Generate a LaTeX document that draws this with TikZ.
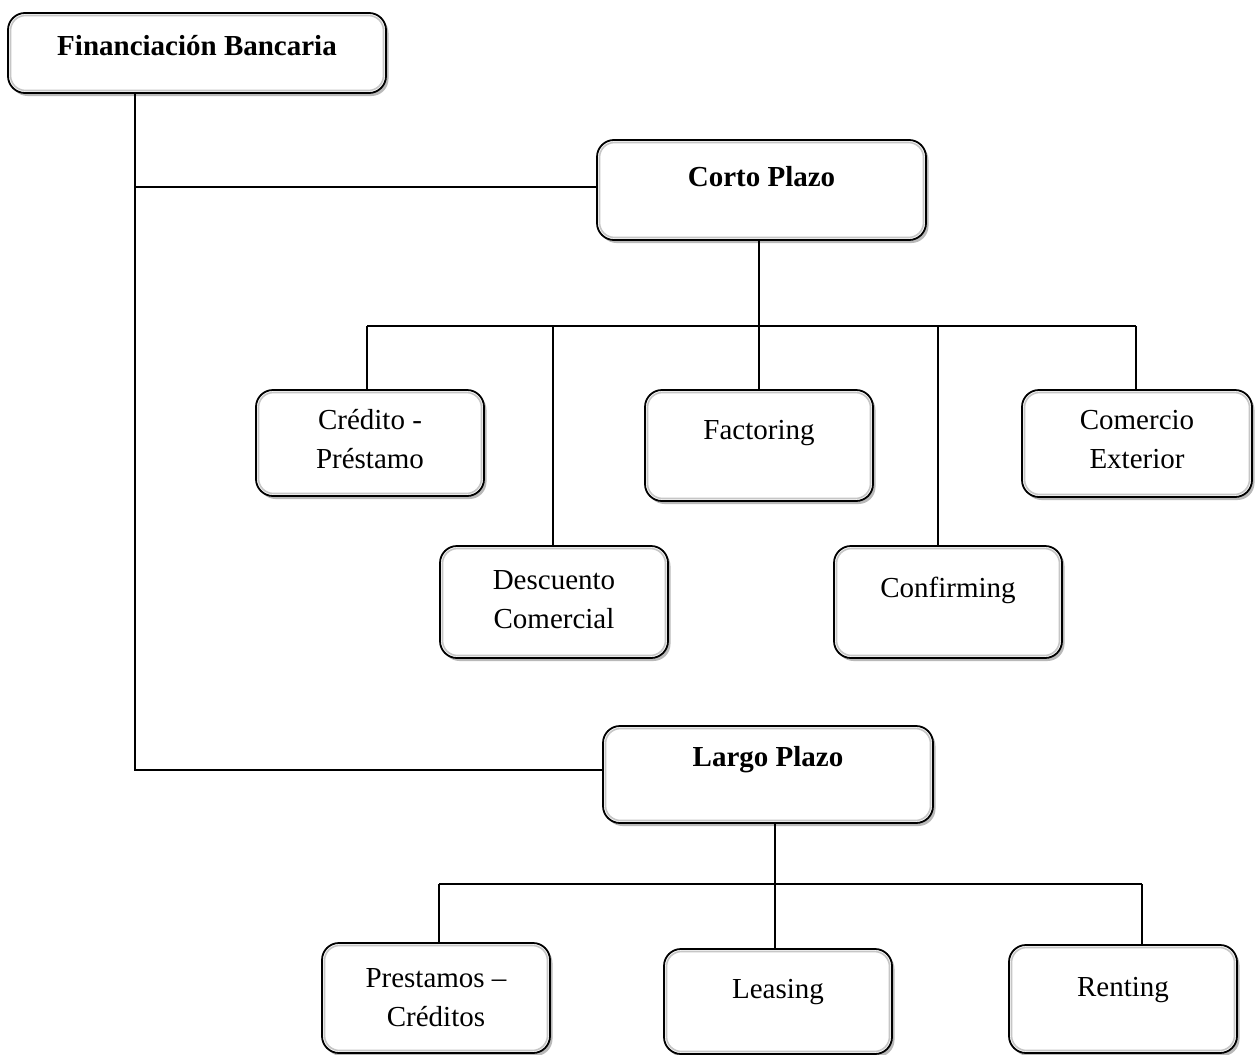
\documentclass[tikz,border=0pt]{standalone}
\usepackage{fontspec}
\setmainfont{Liberation Serif}
\usetikzlibrary{shadows}
\begin{document}
\begin{tikzpicture}[x=1pt,y=-1pt,
  box/.style={draw=black,line width=1.8pt,rounded corners=17pt,fill=white,
    drop shadow={shadow xshift=2.5pt,shadow yshift=-3pt,fill=gray!55,opacity=1},
    path picture={\draw[gray!45,line width=1.6pt,rounded corners=15pt]
      ([shift={(2.5pt,-2.5pt)}]path picture bounding box.north west) rectangle
      ([shift={(-2.5pt,2.5pt)}]path picture bounding box.south east);},
    inner sep=0pt},
  txt/.style={font=\fontsize{29}{39}\selectfont,align=center,inner sep=0pt},
  btxt/.style={txt,font=\fontsize{29}{39}\selectfont\bfseries},
  conn/.style={line width=1.6pt,black}]
\useasboundingbox (0,0) rectangle (1259,1055);

% boxes
\node[box,minimum width=378pt,minimum height=80pt]  (fb) at (197,53) {};
\node[box,minimum width=329pt,minimum height=100pt] (cp) at (761.5,190) {};
\node[box,minimum width=228pt,minimum height=106pt] (cr) at (370,443) {};
\node[box,minimum width=228pt,minimum height=111pt] (fa) at (759,445.5) {};
\node[box,minimum width=230pt,minimum height=107pt] (ce) at (1137,443.5) {};
\node[box,minimum width=228pt,minimum height=112pt] (de) at (554,602) {};
\node[box,minimum width=228pt,minimum height=112pt] (co) at (948,602) {};
\node[box,minimum width=330pt,minimum height=97pt]  (lp) at (768,774.5) {};
\node[box,minimum width=228pt,minimum height=110pt] (pc) at (436,998) {};
\node[box,minimum width=228pt,minimum height=105pt] (le) at (778,1001.5) {};
\node[box,minimum width=228pt,minimum height=108pt] (re) at (1123,999) {};

% texts
\node[btxt] (fb-t) at (197,46) {Financiación Bancaria};
\node[btxt] (cp-t) at (761.5,177) {Corto Plazo};
\node[txt]  (cr-t) at (370,439.5) {Crédito -\\Préstamo};
\node[txt]  (fa-t) at (759,433) {Factoring};
\node[txt]  (ce-t) at (1137,439.5) {Comercio\\Exterior};
\node[txt]  (de-t) at (554,600) {Descuento\\Comercial};
\node[txt]  (co-t) at (948,590) {Confirming};
\node[btxt] (lp-t) at (768,760) {Largo Plazo};
\node[txt]  (pc-t) at (436,997.5) {Prestamos –\\Créditos};
\node[txt]  (le-t) at (778,992) {Leasing};
\node[txt]  (re-t) at (1123,990) {Renting};

% trunk
\coordinate (t1) at (135,187);
\coordinate (t2) at (135,770);
\draw[conn] (fb.south -| t1) -- (t2) -- (t2 -| lp.west);
\draw[conn] (t1) -- (t1 -| cp.west);

% short-term branch
\coordinate (s1) at (367,326);
\coordinate (s2) at (553,326);
\coordinate (s3) at (759,326);
\coordinate (s4) at (938,326);
\coordinate (s5) at (1136,326);
\draw[conn] (s1) -- (s5);
\draw[conn] (cp.south -| s3) -- (s3 |- fa.north);
\draw[conn] (s1) -- (s1 |- cr.north);
\draw[conn] (s2) -- (s2 |- de.north);
\draw[conn] (s4) -- (s4 |- co.north);
\draw[conn] (s5) -- (s5 |- ce.north);

% long-term branch
\coordinate (l1) at (439,884);
\coordinate (l2) at (775,884);
\coordinate (l3) at (1142,884);
\draw[conn] (l1) -- (l3);
\draw[conn] (lp.south -| l2) -- (l2 |- le.north);
\draw[conn] (l1) -- (l1 |- pc.north);
\draw[conn] (l3) -- (l3 |- re.north);
\end{tikzpicture}
\end{document}
